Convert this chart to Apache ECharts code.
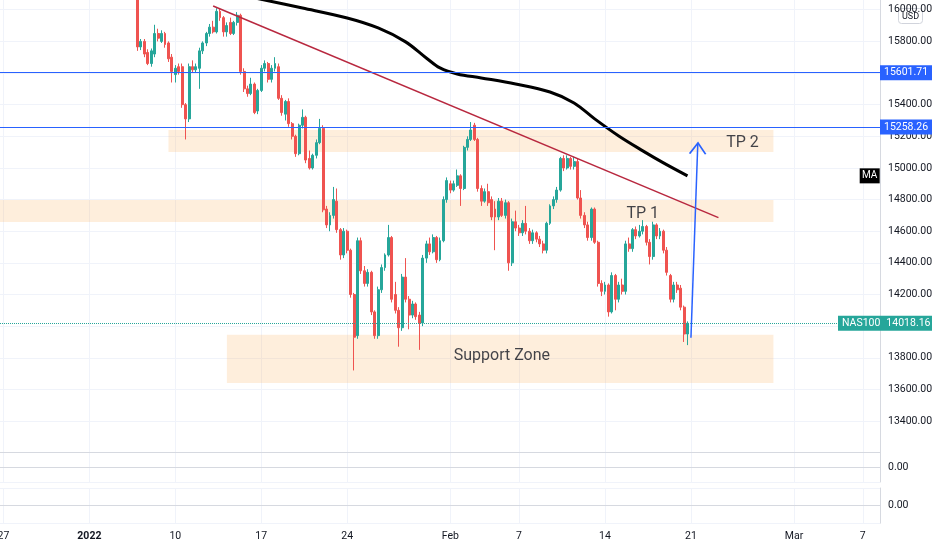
<!DOCTYPE html>
<html>
<head>
<meta charset="utf-8">
<script src="https://cdn.jsdelivr.net/npm/echarts@6/dist/echarts.min.js"></script>
<style>
html,body{margin:0;padding:0;background:#ffffff;}
#chart{width:932px;height:550px;}
</style>
</head>
<body>
<div id="chart"></div>
<script>
// ---- time slots / tick labels ----
const slotCount = 257;
const tickSlots = [1, 26, 51, 76, 101, 131, 151, 176, 201, 231, 251];
const tickLabels = ['27', '2022', '10', '17', '24', 'Feb', '7', '14', '21', 'Mar', '7'];

// ---- candles: [open, close, low, high] ----
const firstCandleSlot = 40;
const candles = [
  [16110,15765,15740,16130],[15765,15800,15745,15815],[15800,15720,15700,15815],[15730,15660,15650,15750],
  [15660,15740,15640,15755],[15720,15850,15700,15905],[15850,15820,15800,15880],[15800,15850,15790,15870],
  [15850,15780,15760,15860],[15790,15690,15670,15800],[15700,15610,15540,15720],[15590,15630,15540,15650],
  [15640,15610,15590,15660],[15640,15400,15380,15660],[15400,15310,15180,15410],[15310,15640,15290,15660],
  [15640,15620,15600,15680],[15620,15640,15600,15660],[15630,15740,15500,15760],[15740,15790,15720,15800],
  [15790,15850,15770,15860],[15850,15890,15830,15910],[15890,15860,15850,15930],[15860,15990,15850,16010],
  [15990,15950,15930,16005],[15950,15860,15830,15960],[15860,15900,15830,15920],[15920,15850,15840,15950],
  [15850,15920,15840,15930],[15920,15965,15900,15985],[15965,15610,15590,15975],[15610,15500,15480,15630],
  [15500,15470,15450,15520],[15470,15530,15460,15570],[15530,15350,15340,15540],[15360,15490,15340,15500],
  [15490,15630,15480,15650],[15630,15660,15610,15680],[15660,15560,15540,15670],[15560,15630,15540,15650],
  [15630,15660,15610,15700],[15640,15440,15430,15660],[15440,15350,15330,15460],[15340,15420,15300,15430],
  [15420,15280,15260,15440],[15280,15200,15180,15290],[15200,15090,15070,15210],[15090,15270,15080,15280],
  [15270,15320,15250,15370],[15320,15050,15030,15330],[15060,15000,14990,15110],[15000,15080,14990,15090],
  [15080,15160,15060,15180],[15160,15250,15150,15310],[15250,14735,14720,15270],[14740,14640,14620,14760],
  [14640,14700,14600,14720],[14700,14800,14680,14880],[14790,14610,14590,14870],[14610,14450,14420,14620],
  [14450,14600,14430,14620],[14600,14480,14460,14610],[14480,14200,14180,14490],[14200,13930,13720,14210],
  [13940,14540,13920,14560],[14540,14350,14330,14560],[14350,14270,14250,14380],[14270,14340,14250,14360],
  [14340,14090,14070,14350],[14090,13940,13920,14100],[13940,14230,13920,14250],[14230,14370,14210,14390],
  [14370,14450,14350,14460],[14450,14560,14440,14640],[14560,14170,14150,14570],[14200,14100,14080,14280],
  [14100,13990,13870,14120],[13990,14310,13970,14330],[14310,14170,14150,14430],[14170,14070,13980,14190],
  [14070,14140,14050,14160],[14140,14060,14040,14150],[14070,14020,13850,14090],[14020,14430,14000,14450],
  [14430,14520,14400,14540],[14520,14470,14450,14560],[14470,14560,14460,14580],[14560,14420,14400,14570],
  [14420,14540,14410,14560],[14540,14800,14530,14820],[14800,14920,14780,14940],[14900,14860,14840,14920],
  [14860,14900,14850,14920],[14890,14950,14880,14990],[14950,14870,14760,14960],[14870,15130,14860,15140],
  [15130,15180,15110,15200],[15180,15240,15170,15290],[15270,15180,15170,15285],[15180,14870,14850,15190],
  [14870,14790,14760,14890],[14790,14850,14780,14870],[14850,14780,14760,14900],[14800,14690,14670,14820],
  [14740,14690,14480,14790],[14690,14790,14670,14810],[14790,14700,14690,14810],[14700,14780,14680,14800],
  [14780,14400,14350,14790],[14400,14660,14380,14680],[14660,14620,14600,14730],[14620,14590,14570,14640],
  [14590,14650,14570,14670],[14650,14600,14580,14760],[14600,14540,14520,14620],[14540,14590,14520,14610],
  [14590,14550,14530,14600],[14550,14520,14500,14570],[14520,14480,14460,14540],[14480,14650,14460,14660],
  [14650,14760,14640,14770],[14760,14800,14740,14820],[14800,14860,14780,14880],[14860,15060,14850,15070],
  [15060,15000,14980,15080],[15000,15060,14990,15080],[15060,15010,14990,15070],[15010,15040,14990,15070],
  [15040,14810,14800,15060],[14810,14700,14680,14860],[14700,14640,14620,14720],[14640,14560,14540,14660],
  [14560,14740,14540,14750],[14740,14530,14520,14750],[14530,14270,14250,14540],[14270,14220,14190,14290],
  [14220,14260,14200,14280],[14260,14090,14060,14270],[14090,14320,14080,14340],[14320,14170,14100,14330],
  [14170,14260,14150,14280],[14260,14220,14200,14300],[14220,14520,14200,14540],[14520,14490,14470,14560],
  [14490,14610,14470,14620],[14610,14570,14550,14630],[14570,14600,14560,14640],[14600,14630,14580,14670],
  [14630,14530,14510,14640],[14530,14440,14390,14550],[14440,14640,14420,14660],[14640,14570,14550,14650],
  [14570,14600,14550,14620],[14600,14480,14460,14610],[14480,14340,14320,14500],[14320,14170,14150,14330],
  [14170,14260,14150,14280],[14260,14230,14210,14280],[14240,14120,14100,14260],[14120,13950,13900,14130],
  [13950,14018.16,13880,14030]
];

// ---- moving average (sparse read points) ----
const maSlots  = [74, 88, 101, 110, 118, 124, 128, 133, 140, 150, 160, 167, 173, 180, 187, 193, 200];
const maValues = [16075, 16011, 15948, 15885, 15797, 15695, 15632, 15594, 15569, 15531, 15480, 15411, 15310, 15202, 15108, 15032, 14950];

// ---- drawings ----
const trendSlots = [62, 209];
const trendValues = [16024, 14686];
const arrowSlots = [201, 203];
const arrowValues = [13926, 15158];
const levelValues = [15601.71, 15258.26];
const lastPrice = 14018.16;
const symbolName = 'NAS100';
const zoneStart = [49, 0, 66];
const zoneEnd = [225, 225, 225];
const zoneHigh = [15240, 14798, 13945];
const zoneLow = [15101, 14659, 13641];
const noteTexts = ['TP 2', 'TP 1', 'Support Zone'];
const noteSlots = [216, 187, 146];
const noteValues = [15158, 14710, 13812];

// ---- build ----
const FONT = 'Roboto';
const TXT = '#131722';
const GRIDC = '#f0f3fa';
const SEP = '#d6d9e0';
const UP = '#26a69a';
const DOWN = '#ef5350';
const BLUE = '#2962ff';

const cats = Array.from({length: slotCount}, (_, i) => String(i));
const tickMap = {};
tickSlots.forEach((s, i) => { tickMap[s] = tickLabels[i]; });
const isTick = (i) => tickMap[i] !== undefined;

function xAxisFor(gi, showLabels, showLine) {
  return {
    type: 'category', gridIndex: gi, data: cats, boundaryGap: false,
    axisLine: {show: showLine, lineStyle: {color: SEP, width: 1}},
    axisTick: {show: false},
    axisLabel: showLabels ? {
      show: true, interval: (i) => isTick(i), margin: 8,
      color: TXT, fontSize: 10.5, fontFamily: FONT,
      formatter: (v) => { const idx = Number(v); return idx === 26 ? '{b|2022}' : (tickMap[idx] || ''); },
      rich: {b: {fontWeight: 'bold', color: TXT, fontSize: 10.5, fontFamily: FONT}}
    } : {show: false},
    splitLine: {show: true, interval: (i) => isTick(i), lineStyle: {color: GRIDC, width: 1}}
  };
}
function paneY(gi) {
  return {
    type: 'value', gridIndex: gi, position: 'right', min: -1, max: 1, interval: 1,
    axisLine: {show: true, lineStyle: {color: SEP}}, axisTick: {show: false},
    axisLabel: {formatter: (v) => v === 0 ? '0.00' : '', color: TXT, fontSize: 10.5, fontFamily: FONT, margin: 8},
    splitLine: {show: true, lineStyle: {color: GRIDC}}
  };
}
function tag(bg) {
  return {show: true, color: '#ffffff', backgroundColor: bg, padding: [2, 4, 1, 4],
          fontSize: 10.5, fontFamily: FONT, lineHeight: 12};
}

const option = {
  animation: false,
  backgroundColor: '#ffffff',
  grid: [
    {left: 0, right: 52, top: -21.9, height: 474.6, outerBoundsMode: 'none', containLabel: false},
    {left: 0, right: 52, top: 452.7, height: 29.3, outerBoundsMode: 'none', containLabel: false},
    {left: 0, right: 52, top: 488, height: 35.2, outerBoundsMode: 'none', containLabel: false}
  ],
  xAxis: [xAxisFor(0, false, true), xAxisFor(1, false, true), xAxisFor(2, true, true)],
  yAxis: [
    {
      type: 'value', gridIndex: 0, position: 'right', min: 13200, max: 16200, interval: 200,
      axisLine: {show: true, lineStyle: {color: SEP}}, axisTick: {show: false},
      axisLabel: {formatter: (v) => (v <= 13200 || v >= 16200) ? '' : v.toFixed(2),
                  color: TXT, fontSize: 10.5, fontFamily: FONT, margin: 8},
      splitLine: {show: true, lineStyle: {color: GRIDC}}
    },
    paneY(1), paneY(2)
  ],
  series: [
    {
      name: 'zones', type: 'line', xAxisIndex: 0, yAxisIndex: 0, z: 1, data: [],
      markArea: {
        silent: true,
        itemStyle: {color: 'rgba(249,168,82,0.2)'},
        data: zoneStart.map((s, i) => [{xAxis: s, yAxis: zoneHigh[i]}, {xAxis: zoneEnd[i], yAxis: zoneLow[i]}])
      }
    },
    {
      name: symbolName, type: 'candlestick', xAxisIndex: 0, yAxisIndex: 0, z: 3,
      barWidth: 2.4,
      encode: {x: 0, y: [1, 2, 3, 4]},
      data: candles.map((c, k) => [firstCandleSlot + k, c[0], c[1], c[2], c[3]]),
      itemStyle: {color: UP, color0: DOWN, borderColor: UP, borderColor0: DOWN, borderWidth: 1},
      markLine: {
        silent: true, symbol: ['none', 'none'], animation: false,
        data: [
          {yAxis: levelValues[0], lineStyle: {color: BLUE, width: 1, type: 'solid'},
           label: Object.assign(tag(BLUE), {position: 'end', distance: 0, formatter: levelValues[0].toFixed(2)})},
          {yAxis: levelValues[1], lineStyle: {color: BLUE, width: 1, type: 'solid'},
           label: Object.assign(tag(BLUE), {position: 'end', distance: 0, formatter: levelValues[1].toFixed(2)})},
          {yAxis: lastPrice, lineStyle: {color: UP, width: 1, type: 'dotted'},
           label: Object.assign(tag(UP), {
             position: 'end', distance: -42,
             formatter: '{n|' + symbolName + '}{p|' + lastPrice.toFixed(2) + '}',
             rich: {
               n: {color: '#ffffff', fontSize: 10.5, fontFamily: FONT, padding: [0, 6, 0, 0]},
               p: {color: '#ffffff', fontSize: 10.5, fontFamily: FONT}
             }
           })}
        ]
      }
    },
    {
      name: 'MA', type: 'line', xAxisIndex: 0, yAxisIndex: 0, z: 4,
      data: maSlots.map((s, i) => [s, maValues[i]]),
      smooth: 0.35, symbol: 'none', showSymbol: false,
      lineStyle: {color: '#000000', width: 3},
      markPoint: {
        silent: true, animation: false,
        data: [{coord: [253, maValues[maValues.length - 1]], symbol: 'rect', symbolSize: [20, 15],
                itemStyle: {color: '#000000'},
                label: {show: true, position: 'inside', formatter: 'MA', color: '#ffffff', fontSize: 10, fontFamily: FONT}}]
      }
    },
    {
      name: 'trend', type: 'line', xAxisIndex: 0, yAxisIndex: 0, z: 4,
      data: trendSlots.map((s, i) => [s, trendValues[i]]),
      symbol: 'none', lineStyle: {color: '#b8283f', width: 1.5}
    },
    {
      name: 'arrow', type: 'line', xAxisIndex: 0, yAxisIndex: 0, z: 5,
      data: [
        {value: [arrowSlots[0], arrowValues[0]], symbol: 'none'},
        {value: [arrowSlots[1], arrowValues[1]], symbol: 'path://M0,11L8,0L16,11', symbolSize: [16, 11],
         symbolOffset: [0, '50%'], symbolRotate: -2, symbolKeepAspect: false}
      ],
      showSymbol: true, showAllSymbol: true, clip: false,
      itemStyle: {color: 'rgba(0,0,0,0)', borderColor: BLUE, borderWidth: 1.5},
      lineStyle: {color: BLUE, width: 1.5}
    },
    {
      name: 'notes', type: 'scatter', xAxisIndex: 0, yAxisIndex: 0, z: 6,
      symbolSize: 1, itemStyle: {color: 'rgba(0,0,0,0)'},
      data: noteTexts.map((t, i) => ({name: t, value: [noteSlots[i], noteValues[i]]})),
      label: {show: true, position: 'inside', formatter: '{b}', color: TXT, fontSize: 16, fontFamily: FONT}
    }
  ],
  graphic: [
    {type: 'group', left: 898, top: 8, children: [
      {type: 'rect', shape: {x: 0, y: 0, width: 24, height: 15, r: 3}, style: {fill: '#ffffff', stroke: '#d1d4dc', lineWidth: 1}},
      {type: 'text', x: 12, y: 8, style: {text: 'USD', fontSize: 9, fill: TXT, align: 'center', verticalAlign: 'middle', fontFamily: FONT}}
    ]}
  ]
};

const chart = echarts.init(document.getElementById('chart'));
chart.setOption(option);
</script>
</body>
</html>
